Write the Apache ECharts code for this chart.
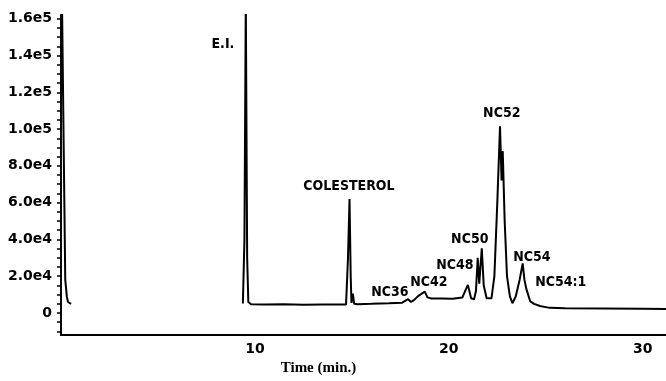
<!DOCTYPE html>
<html>
<head>
<meta charset="utf-8">
<script src="https://cdn.jsdelivr.net/npm/echarts@6/dist/echarts.min.js"></script>
<style>html,body{margin:0;padding:0;background:#fff}#c{width:666px;height:381px}</style>
</head>
<body>
<div id="c"></div>
<script>
// Chromatogram trace: [time (min), signal]; null = no trace recorded
const trace = [
  [0.05, 170000], [0.15, 170000], [0.22, 18000], [0.3, 9000], [0.36, 6000], [0.52, 5000],
  [0.6, null],
  [9.38, 5200], [9.46, 40000], [9.53, 170000], [9.6, 30000], [9.66, 6000], [9.8, 4800],
  [10.5, 4600], [11.5, 4800], [12.5, 4500], [13.5, 4700], [14.5, 4600],
  [14.7, 4700], [14.8, 30000], [14.88, 62000], [14.94, 20000], [14.98, 5500],
  [15.05, 10500], [15.12, 5000], [15.3, 4800], [16.0, 5000], [16.9, 5300],
  [17.6, 5600], [17.9, 7500], [18.05, 6000], [18.2, 7000], [18.45, 9500],
  [18.76, 11600], [18.9, 8500], [19.1, 7900], [19.6, 7900], [20.2, 7700], [20.7, 8500],
  [20.98, 15300], [21.15, 8000], [21.3, 7400],
  [21.4, 12000], [21.49, 30000], [21.57, 16000],
  [21.7, 35200], [21.8, 15000], [21.95, 8000], [22.05, 7400],
  [22.2, 8000], [22.35, 20000], [22.5, 60000], [22.64, 101500], [22.72, 72000],
  [22.78, 88000], [22.88, 50000], [23.0, 20000], [23.15, 9000], [23.28, 5300],
  [23.45, 9000], [23.65, 18000], [23.81, 27000], [23.9, 18000], [24.0, 13000],
  [24.1, 12000], [24.2, 6300],
  [24.4, 5000], [24.7, 3800], [25.2, 2800], [26.0, 2600], [28.0, 2500], [30.0, 2300], [31.2, 2200]
];
// Peak labels: [time, signal, text]
const peakLabels = [
  [8.35, 145800, 'E.I.'],
  [14.85, 68900, 'COLESTEROL'],
  [22.73, 108400, 'NC52'],
  [21.08, 40000, 'NC50'],
  [20.31, 25800, 'NC48'],
  [18.97, 16800, 'NC42'],
  [16.96, 11000, 'NC36'],
  [24.28, 30500, 'NC54'],
  [25.77, 16800, 'NC54:1']
];
const xTickValues = [10, 20, 30];
const yLabelValues = [0, 20000, 40000, 60000, 80000, 100000, 120000, 140000, 160000];
const yLabelTexts = ['0', '2.0e4', '4.0e4', '6.0e4', '8.0e4', '1.0e5', '1.2e5', '1.4e5', '1.6e5'];
const yTickValues = [];
for (let v = -10000; v <= 160000; v += 5000) yTickValues.push(v);

const chart = echarts.init(document.getElementById('c'), null, {renderer: 'canvas'});
chart.setOption({
  animation: false,
  backgroundColor: '#fff',
  grid: {left: 61, right: 0, top: 15, bottom: 36},
  xAxis: {
    type: 'value', min: 0, max: 31.2,
    axisLine: {show: true, onZero: false, lineStyle: {color: '#000', width: 2}},
    axisTick: {show: false},
    splitLine: {show: false},
    axisLabel: {
      customValues: xTickValues, margin: 7,
      fontFamily: 'DejaVu Sans', fontWeight: 'bold', fontSize: 14, color: '#000'
    },
    name: 'Time (min.)', nameLocation: 'middle', nameGap: 20,
    nameTextStyle: {fontFamily: 'Liberation Serif', fontWeight: 'bold', fontSize: 15, color: '#000', padding: [0, 90, 0, 0]}
  },
  yAxis: {
    type: 'value', min: -12000, max: 162000,
    axisLine: {show: true, onZero: false, lineStyle: {color: '#000', width: 2}},
    axisTick: {show: true, customValues: yTickValues, length: 4, lineStyle: {color: '#000', width: 1.5}},
    splitLine: {show: false},
    axisLabel: {
      customValues: yLabelValues, margin: 9,
      formatter: v => yLabelTexts[yLabelValues.indexOf(v)] || '',
      fontFamily: 'DejaVu Sans', fontWeight: 'bold', fontSize: 14, color: '#000'
    }
  },
  series: [
    {
      type: 'line', data: trace, showSymbol: false, symbol: 'none', connectNulls: false,
      lineStyle: {color: '#000', width: 2}, clip: true
    },
    {
      type: 'custom', data: peakLabels, silent: true, clip: false,
      renderItem: (params, api) => {
        const p = api.coord([api.value(0), api.value(1)]);
        return {
          type: 'text',
          x: p[0], y: p[1],
          style: {
            text: peakLabels[params.dataIndex][2],
            fill: '#000', align: 'center', verticalAlign: 'middle',
            font: 'bold 14px "DejaVu Sans Condensed", "DejaVu Sans", sans-serif'
          }
        };
      }
    }
  ]
});
</script>
</body>
</html>
